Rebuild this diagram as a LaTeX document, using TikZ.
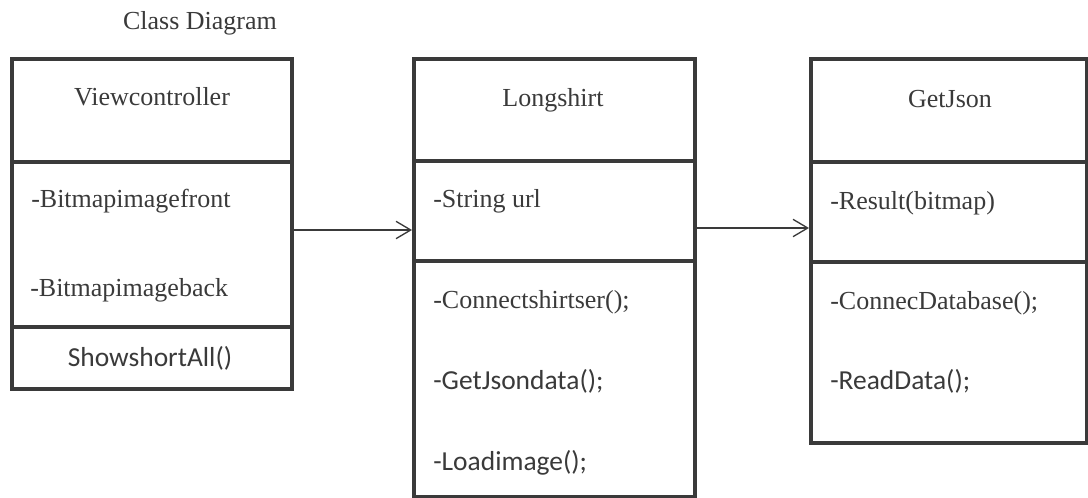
\documentclass[tikz,border=0pt]{standalone}
\usepackage{fontspec}
\setmainfont{Liberation Serif}
\newfontfamily\calibfont{Carlito}
\usetikzlibrary{arrows.meta}
\definecolor{ink}{HTML}{3A3A3A}

\begin{document}
\begin{tikzpicture}[x=0.75pt,y=-0.75pt,
   part/.style={draw=ink,line width=3pt,inner sep=0pt,anchor=north west},
   lbl/.style={text=ink,inner sep=0pt,font=\fontsize{19.5}{23}\selectfont},
   mlbl/.style={lbl,anchor=base west},
   clbl/.style={lbl,anchor=base},
   sans/.style={font=\calibfont\fontsize{20.6}{24}\selectfont},
   link/.style={draw=ink,line width=1pt,-{Straight Barb[length=11pt,width=13pt]}}]
   \useasboundingbox (0,0) rectangle (1088,498);
   \node[lbl,anchor=base] (title) at (200,30) {Class Diagram};

   % Viewcontroller
   \node[part,minimum width=210pt,minimum height=77.25pt] (vc-name) at (10,57) {};
   \node[part,minimum width=210pt,minimum height=123.75pt] (vc-attr) at (10,160) {};
   \node[part,minimum width=210pt,minimum height=46.5pt] (vc-ops) at (10,325) {};
   \node[clbl] (vc-t) at (152,106) {Viewcontroller};
   \node[mlbl] (vc-a1) at (31,208) {-Bitmapimagefront};
   \node[mlbl] (vc-a2) at (30,297) {-Bitmapimageback};
   \node[clbl,sans] (vc-o1) at (150,367) {ShowshortAll()};

   % Longshirt
   \node[part,minimum width=210.75pt,minimum height=76.5pt] (ls-name) at (412,57) {};
   \node[part,minimum width=210.75pt,minimum height=75pt] (ls-attr) at (412,159) {};
   \node[part,minimum width=210.75pt,minimum height=177pt] (ls-ops) at (412,259) {};
   \node[clbl] (ls-t) at (553,107) {Longshirt};
   \node[mlbl] (ls-a1) at (433,208) {-String url};
   \node[mlbl] (ls-o1) at (433,309) {-Connectshirtser();};
   \node[mlbl,sans] (ls-o2) at (433,390) {-GetJsondata();};
   \node[mlbl,sans] (ls-o3) at (433,470) {-Loadimage();};

   % GetJson
   \node[part,minimum width=207pt,minimum height=77.25pt] (gj-name) at (809,57) {};
   \node[part,minimum width=207pt,minimum height=75pt] (gj-attr) at (809,160) {};
   \node[part,minimum width=207pt,minimum height=135.75pt] (gj-ops) at (809,260) {};
   \node[clbl] (gj-t) at (950,108) {GetJson};
   \node[mlbl] (gj-a1) at (830,210) {-Result(bitmap)};
   \node[mlbl] (gj-o1) at (830,310) {-ConnecDatabase();};
   \node[mlbl,sans] (gj-o2) at (830,390) {-ReadData();};

   \coordinate (r1) at (0,230);
   \coordinate (r2) at (0,228);
   \draw[link] (vc-attr.east |- r1) -- (ls-attr.west |- r1);
   \draw[link] (ls-attr.east |- r2) -- (gj-attr.west |- r2);
\end{tikzpicture}
\end{document}
